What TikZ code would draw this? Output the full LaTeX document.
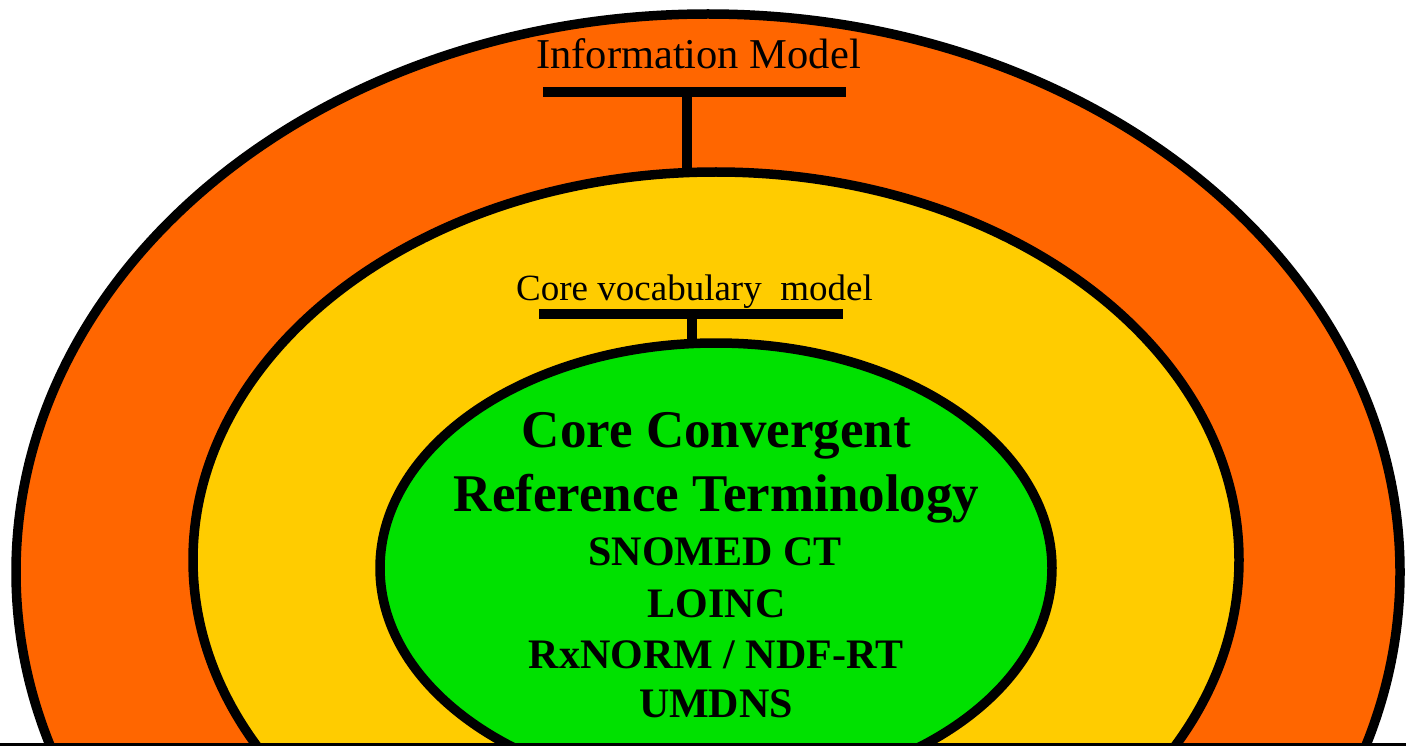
\documentclass[tikz,border=0pt]{standalone}
\usepackage{fontspec}
\setmainfont{Liberation Serif}
\usetikzlibrary{shapes.geometric}
\definecolor{orangeC}{RGB}{255,102,0}
\definecolor{yellowC}{RGB}{255,204,0}
\definecolor{greenC}{RGB}{0,225,0}
\tikzset{
  ring/.style={ellipse, draw=black, line width=9.5pt, inner sep=0pt, outer sep=0pt},
  tbar/.style={fill=black, inner sep=0pt, outer sep=0pt, minimum height=10pt},
  stem/.style={draw=black, line width=10pt},
  lbl/.style={anchor=base, inner sep=0pt, text=black},
  big/.style={lbl, font=\bfseries\fontsize{53}{60}\selectfont},
  mid/.style={lbl, font=\bfseries\fontsize{42}{50}\selectfont}
}
\begin{document}
\begin{tikzpicture}[x=1pt,y=-1pt]
\useasboundingbox (0,0) rectangle (1406,746);
\begin{scope}
\clip (0,0) rectangle (1406,746);
\node[ring, fill=orangeC, minimum width=1384pt, minimum height=1116pt] (outer) at (708,572) {};
\node[ring, fill=yellowC, minimum width=1046pt, minimum height=776pt] (yellow) at (716,560) {};
\node[ring, fill=greenC, minimum width=672pt, minimum height=450pt] (green) at (716,568) {};
\end{scope}
\draw[black, line width=3pt] (0,744.5) coordinate (bl) -- (1406,744.5) coordinate (br);
% top T
\node[tbar, minimum width=303pt] (barA) at (694.5,92) {};
\coordinate (stemA) at (687,92);
\draw[stem] (stemA) -- (stemA |- yellow.north);
\node[lbl, font=\fontsize{42.5}{50}\selectfont] (infomodel) at (698.5,69) {Information Model};
% lower T
\node[tbar, minimum width=304pt] (barB) at (691,314) {};
\coordinate (stemB) at (692,314);
\draw[stem] (stemB) -- ([yshift=-4pt]stemB |- green.north);
\node[lbl, font=\fontsize{37}{44}\selectfont] (corevocab) at (694.5,300) {Core vocabulary\ \ model};
% green texts
\node[big] (t1) at (716.5,447) {Core Convergent};
\node[big] (t2) at (716.5,511) {Reference Terminology};
\node[mid] (t3) at (715,565) {SNOMED CT};
\node[mid] (t4) at (716.5,617) {LOINC};
\node[mid] (t5) at (716,668) {RxNORM / NDF-RT};
\node[mid] (t6) at (716,717) {UMDNS};
\end{tikzpicture}
\end{document}
